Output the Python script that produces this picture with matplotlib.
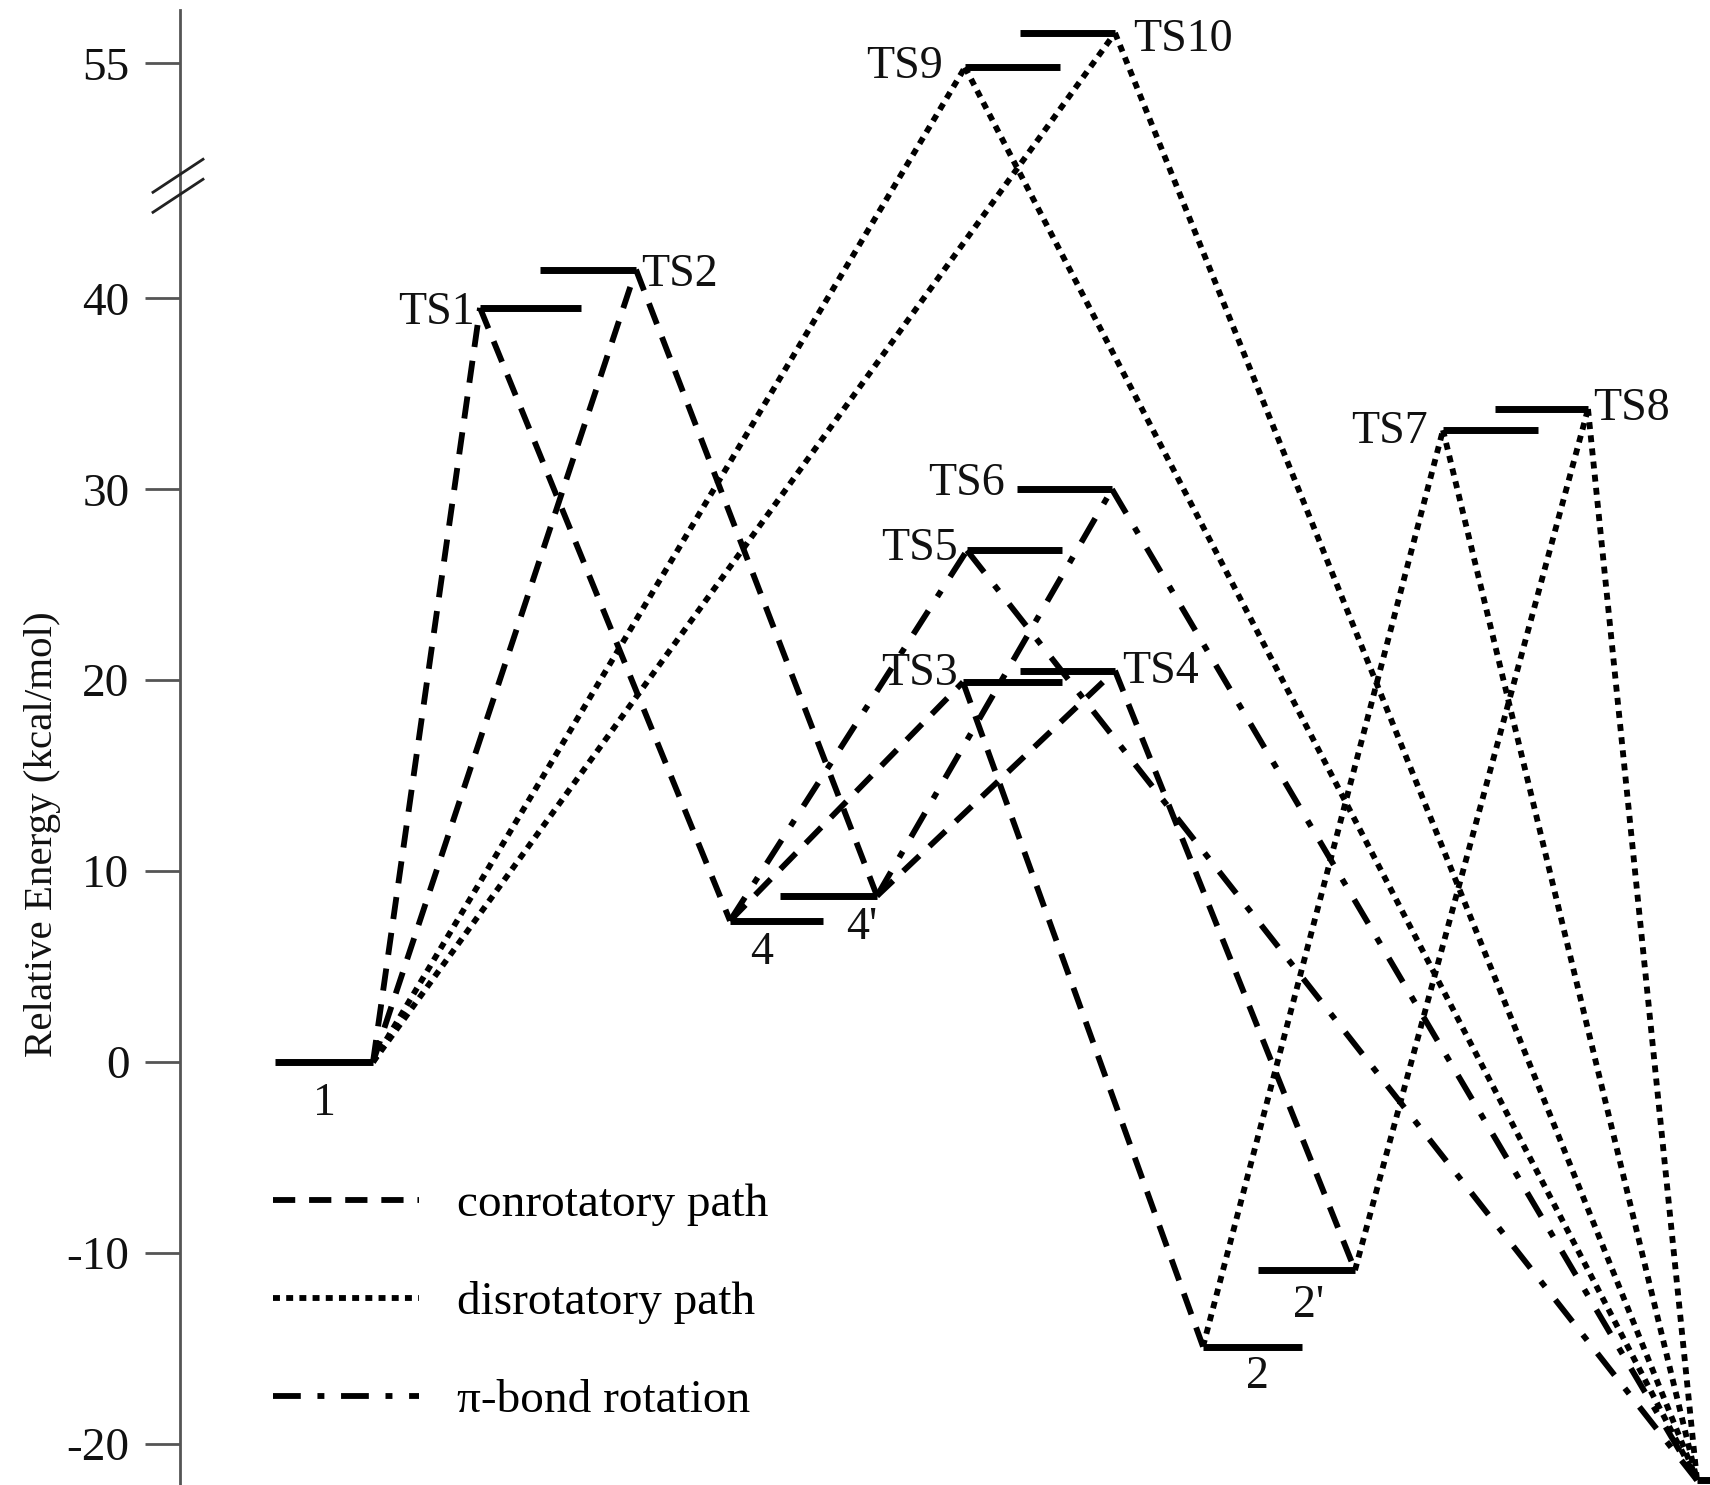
import numpy as np
import matplotlib
matplotlib.use("Agg")
import matplotlib.pyplot as plt
from matplotlib.lines import Line2D

plt.rcParams["font.family"] = ["Liberation Serif", "DejaVu Serif"]
plt.rcParams["lines.scale_dashes"] = False

# stationary points (reaction coordinate start/end of each level, energy in kcal/mol)
names = ["1", "TS1", "TS2", "4", "4'", "TS3", "TS4", "TS5", "TS6",
         "TS9", "TS10", "2", "2'", "TS7", "TS8", "3"]
x_start = [0.95, 3.00, 3.60, 5.50, 6.00, 7.83, 8.40, 7.87, 8.37,
           7.85, 8.40, 10.23, 10.78, 12.63, 13.15, 15.17]
x_end = [1.93, 4.01, 4.56, 6.43, 6.97, 8.82, 9.35, 8.82, 9.32,
         8.80, 9.35, 11.22, 11.75, 13.58, 14.08, 16.20]
energy = [0.0, 39.5, 41.5, 7.4, 8.7, 19.9, 20.5, 26.8, 30.0,
          54.8, 56.6, -14.9, -10.9, 33.1, 34.2, -21.9]

# connections: (from, end, to, end)   L = left end of level, R = right end
conrot = [("1", "R", "TS1", "L"), ("TS1", "L", "4", "L"),
          ("1", "R", "TS2", "R"), ("TS2", "R", "4'", "R"),
          ("4", "L", "TS3", "L"), ("TS3", "L", "2", "L"),
          ("4'", "R", "TS4", "R"), ("TS4", "R", "2'", "R")]
disrot = [("1", "R", "TS9", "L"), ("TS9", "L", "3", "L"),
          ("1", "R", "TS10", "R"), ("TS10", "R", "3", "L"),
          ("2", "L", "TS7", "L"), ("TS7", "L", "3", "L"),
          ("2'", "R", "TS8", "R"), ("TS8", "R", "3", "L")]
pibond = [("4", "L", "TS5", "L"), ("TS5", "L", "3", "L"),
          ("4'", "R", "TS6", "R"), ("TS6", "R", "3", "L")]

yticks = [-20, -10, 0, 10, 20, 30, 40, 55]
ytick_labels = ["-20", "-10", "0", "10", "20", "30", "40", "55"]

# label placement: name -> (anchor, ha, dx pt, dy pt)
label_pos = {
    "1": ("C", "center", 0, -38),
    "TS1": ("L", "right", -4, -11.5),
    "TS2": ("R", "left", 4, -11.5),
    "4": ("C", "center", -11, -31),
    "4'": ("R", "left", -22, -31),
    "TS3": ("L", "right", -4, -2),
    "TS4": ("R", "left", 5, -8.6),
    "TS5": ("L", "right", -6.5, -7),
    "TS6": ("L", "right", -8.6, -4.3),
    "TS9": ("L", "right", -16, -8),
    "TS10": ("R", "left", 13, -13),
    "2": ("C", "center", 3.6, -29.5),
    "2'": ("C", "left", -10, -34),
    "TS7": ("L", "right", -11, -9.4),
    "TS8": ("R", "left", 3.6, -8),
}

con_style = (0, (16, 10))
dis_style = (0, (5, 4.5))
pi_style = (0, (20, 12, 5, 12))
path_lw = 4.2


# broken y axis: squeeze the 45-50 region
def fwd(y):
    y = np.asarray(y, float)
    return np.where(y <= 45, y, np.where(y >= 50, y - 2.7, 45 + (y - 45) * 0.46))


def inv(t):
    t = np.asarray(t, float)
    return np.where(t <= 45, t, np.where(t >= 47.3, t + 2.7, 45 + (t - 45) / 0.46))


fig = plt.figure(figsize=(17.1, 14.85), dpi=100)
ax = fig.add_axes([180 / 1710, 0, 1 - 180 / 1710, 1 - 10 / 1485])
ax.set_yscale("function", functions=(fwd, inv))
ax.set_xlim(0, 15.3)
ax.set_ylim(-22.15, 57.8)

pos = {n: (a, b, e) for n, a, b, e in zip(names, x_start, x_end, energy)}


def point(n, end):
    a, b, e = pos[n]
    return (a if end == "L" else b), e


for paths, ls in [(conrot, con_style), (disrot, dis_style), (pibond, pi_style)]:
    for n1, e1, n2, e2 in paths:
        p1 = point(n1, e1)
        p2 = point(n2, e2)
        ax.plot([p1[0], p2[0]], [p1[1], p2[1]], color="k", lw=path_lw,
                linestyle=ls, dash_capstyle="butt")

ax.hlines(energy, x_start, x_end, colors="k", lw=5, zorder=3)

for n, (anc, ha, dx, dy) in label_pos.items():
    a, b, e = pos[n]
    x = a if anc == "L" else (b if anc == "R" else (a + b) / 2)
    ax.annotate(n, (x, e), xytext=(dx, dy), textcoords="offset points",
                ha=ha, va="baseline", fontsize=33, color="#111111")

# axes styling
for s in ["top", "right", "bottom"]:
    ax.spines[s].set_visible(False)
ax.spines["left"].set_color("#555555")
ax.spines["left"].set_linewidth(2)
ax.set_xticks([])
ax.set_yticks(yticks)
ax.set_yticklabels(ytick_labels)
ax.yaxis.set_minor_locator(matplotlib.ticker.NullLocator())
ax.tick_params(axis="y", direction="out", length=25, width=2, color="#555555",
               pad=11.5, labelsize=34, labelcolor="#111111")
ax.set_ylabel("Relative Energy (kcal/mol)", fontsize=29.5, color="#111111")
ax.yaxis.set_label_coords(-0.0778, 0.441)

# axis break marks
bx, by = fig.dpi_scale_trans.inverted().transform(ax.transData.transform((0, 47.0)))
for off in (-0.1, 0.1):
    fig.add_artist(Line2D([bx - 0.27, bx + 0.23], [by + off - 0.17, by + off + 0.16],
                          transform=fig.dpi_scale_trans, color="#222222", lw=2))

handles = [Line2D([], [], color="k", lw=path_lw, linestyle=con_style),
           Line2D([], [], color="k", lw=path_lw, linestyle=dis_style),
           Line2D([], [], color="k", lw=path_lw, linestyle=pi_style)]
ax.legend(handles, ["conrotatory path", "disrotatory path", "π-bond rotation"],
          loc="upper left", bbox_to_anchor=(0.0608, 0.2045), frameon=False,
          fontsize=34, handlelength=3.1, handletextpad=0.8, labelspacing=1.16,
          borderpad=0, borderaxespad=0)

fig.savefig("out.png", dpi=100)
